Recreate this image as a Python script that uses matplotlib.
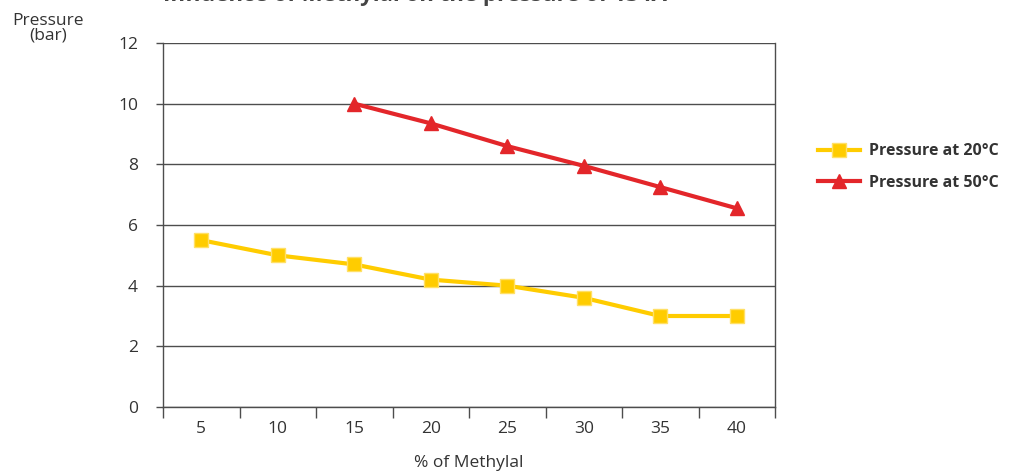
import numpy as np
import matplotlib.pyplot as plt

plt.rcParams['font.family'] = ['Open Sans', 'DejaVu Sans']

methylal = ['5', '10', '15', '20', '25', '30', '35', '40']
p20 = [5.5, 5.0, 4.7, 4.2, 4.0, 3.6, 3.0, 3.0]
p50 = [np.nan, np.nan, 10.0, 9.35, 8.6, 7.95, 7.25, 6.55]

yellow = '#FFCC00'
red = '#E3262A'
grid_c = '#4d4d4d'
text_c = '#333333'
fs = 12.5

fig = plt.figure(figsize=(10.15, 4.75), dpi=100)
ax = fig.add_axes([163/1015, 1 - 407/475, 612/1015, 364/475])

x = np.arange(len(methylal))
l1, = ax.plot(x, p20, color=yellow, lw=3.0, marker='s', ms=9.5,
              mfc=yellow, mec='#ffe066', mew=1.0, label='Pressure at 20°C', zorder=3)
l2, = ax.plot(x, p50, color=red, lw=3.0, marker='^', ms=10.5,
              mfc=red, mec=red, label='Pressure at 50°C', zorder=3)

ax.set_xlim(-0.5, len(methylal) - 0.5)
ax.set_ylim(0, 12)
ax.set_yticks(np.arange(0, 13, 2))
ax.yaxis.grid(True, color=grid_c, lw=1.0)
ax.set_axisbelow(True)

# category ticks between groups, labels centred
ax.set_xticks(np.arange(-0.5, len(methylal), 1.0))
ax.set_xticklabels([])
ax.set_xticks(x, minor=True)
ax.set_xticklabels(methylal, minor=True)
ax.tick_params(axis='x', which='major', length=8, width=1.0, color=grid_c, direction='out')
ax.tick_params(axis='x', which='minor', length=0, pad=10, labelsize=fs, labelcolor=text_c)
ax.tick_params(axis='y', length=5, width=1.0, color=grid_c, pad=13, labelsize=fs, labelcolor=text_c)

for s in ['left', 'right', 'bottom']:
    ax.spines[s].set_color(grid_c)
    ax.spines[s].set_linewidth(1.0)
ax.spines['top'].set_visible(False)

fig.text(469/1015, 1 - 463/475, '% of Methylal', ha='center', va='center',
         fontsize=fs, color=text_c)
fig.text(48/1015, 1 - 28/475, 'Pressure\n(bar)', ha='center', va='center',
         fontsize=fs, color=text_c, linespacing=0.9)

fig.text(163/1015, 1 + 5/475, 'Influence of Methylal on the pressure of 134A',
         ha='left', va='center', fontsize=16, fontweight='bold', color='#444444')

fig.legend(handles=[l1, l2], loc='center left',
           bbox_to_anchor=(804/1015, 1 - 167/475), frameon=False,
           handlelength=2.6, handletextpad=0.6, labelspacing=0.95,
           prop={'size': 11.5, 'weight': 'bold'}, labelcolor=text_c)

fig.savefig('out.png', dpi=100)
